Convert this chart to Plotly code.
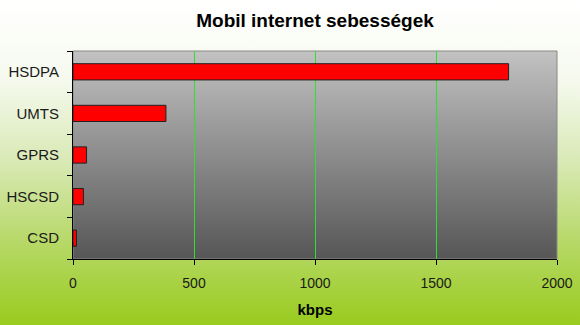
import plotly.graph_objects as go
import urllib.parse

categories = ["CSD", "HSCSD", "GPRS", "UMTS", "HSDPA"]
speeds_kbps = [14.4, 43.2, 56, 384, 1800]
x_ticks = [0, 500, 1000, 1500, 2000]

W, H = 580, 325
L, R, T, B = 73, 557, 51, 259
pw, ph = R - L, B - T


def grad_svg(stops):
    st = "".join(f'<stop offset="{o}" stop-color="{c}"/>' for o, c in stops)
    svg = ('<svg xmlns="http://www.w3.org/2000/svg" width="100" height="100" preserveAspectRatio="none">'
           '<defs><linearGradient id="g" x1="0" y1="0" x2="0" y2="1">' + st +
           '</linearGradient></defs><rect width="100" height="100" fill="url(#g)"/></svg>')
    return "data:image/svg+xml;charset=utf-8," + urllib.parse.quote(svg)


bg = grad_svg([(0, "#ffffff"), (0.25, "#f5f9ed"), (0.5, "#d8e9b4"), (0.75, "#b6d866"), (1, "#99cb1e")])
plotbg = grad_svg([(0, "#c2c2c2"), (1, "#565656")])

fig = go.Figure(go.Bar(
    x=speeds_kbps, y=categories, orientation="h",
    marker=dict(color="#ff0000", line=dict(color="#222222", width=1)),
    width=0.39,
))

fig.update_layout(
    width=W, height=H,
    margin=dict(l=L, r=W - R, t=T, b=H - B, autoexpand=False),
    paper_bgcolor="rgba(0,0,0,0)", plot_bgcolor="rgba(0,0,0,0)",
    showlegend=False,
    font=dict(family="Liberation Sans, Arial, sans-serif", size=14, color="#1a1a1a"),
    title=dict(text="<b>Mobil internet sebességek</b>", x=0.5, xref="paper", xanchor="center",
               y=1 - 20 / H, yanchor="middle", font=dict(size=19, color="#000000")),
    images=[
        dict(source=bg, xref="paper", yref="paper", x=-L / pw, y=1 + T / ph,
             sizex=W / pw, sizey=H / ph, sizing="stretch", layer="below",
             xanchor="left", yanchor="top"),
        dict(source=plotbg, xref="paper", yref="paper", x=0, y=1,
             sizex=1, sizey=1, sizing="stretch", layer="below",
             xanchor="left", yanchor="top"),
    ],
    shapes=[dict(type="rect", xref="paper", yref="paper", x0=0, x1=1, y0=0, y1=1,
                 line=dict(color="#888888", width=1), layer="below")],
    xaxis=dict(range=[0, 2000], tickvals=x_ticks, showgrid=True, gridcolor="#33dd33", gridwidth=1,
               zeroline=False, showline=True, linecolor="#000000", linewidth=1, automargin=False,
               ticks="outside", ticklen=5, tickcolor="#000000", ticklabelstandoff=6,
               tickfont=dict(size=14),
               title=dict(text="<b>kbps</b>", standoff=14, font=dict(size=15, color="#000000"))),
    yaxis=dict(showgrid=False, zeroline=False, showline=True, linecolor="#000000", linewidth=1,
               automargin=False,
               ticks="", ticklabelstandoff=10, range=[-0.5, 4.5], tickfont=dict(size=15)),
)

# category boundary ticks on the y axis
fig.update_yaxes(minor=dict(ticks="outside", ticklen=5, tickcolor="#000000", showgrid=False,
                            tickvals=[-0.5, 0.5, 1.5, 2.5, 3.5, 4.5]))

fig.write_html("out.html")
